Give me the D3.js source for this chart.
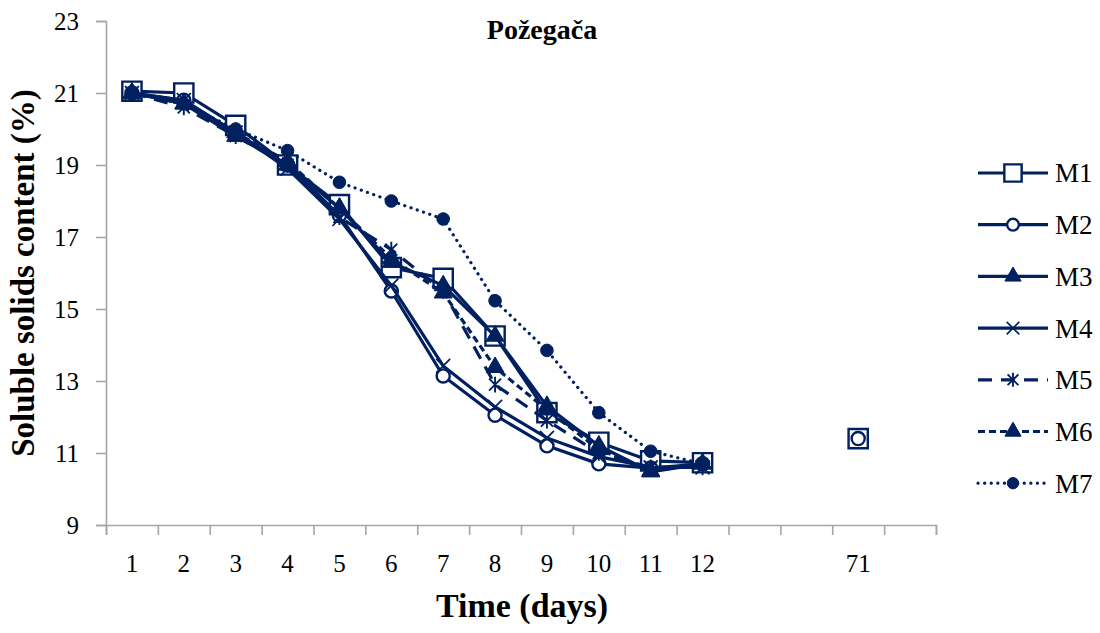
<!DOCTYPE html>
<html>
<head>
<meta charset="utf-8">
<script src="https://cdn.jsdelivr.net/npm/d3@7"></script>
<style>
  body { margin: 0; background: #fff; }
  svg { display: block; }
  text { font-family: "Liberation Serif", "Times New Roman", serif; fill: #000; }
</style>
</head>
<body>
<div id="wrapper"></div>
<script>
// x categories (empty slots keep the gap before day 71)
const xLabels = ['1', '2', '3', '4', '5', '6', '7', '8', '9', '10', '11', '12', '', '', '71', '']
const yTicks = [9, 11, 13, 15, 17, 19, 21, 23]
const seriesNames = ['M1', 'M2', 'M3', 'M4', 'M5', 'M6', 'M7']

const m1 = [21.05, 21.0, 20.1, 19.0, 17.9, 16.15, 15.85, 14.25, 12.12, 11.3, 10.78, 10.73, null, null, 11.4, null]
const m2 = [21.0, 20.8, 19.9, 19.0, 17.6, 15.5, 13.14, 12.05, 11.2, 10.7, 10.58, 10.7, null, null, 11.4, null]
const m3 = [21.0, 20.7, 19.8, 19.0, 17.8, 16.3, 15.65, 14.25, 12.3, 11.2, 10.48, 10.7, null, null, null, null]
const m4 = [21.0, 20.8, 19.9, 18.9, 17.5, 15.65, 13.42, 12.28, 11.42, 10.9, 10.6, 10.6, null, null, null, null]
const m5 = [21.0, 20.6, 19.8, 19.0, 17.55, 16.65, 15.5, 12.9, 11.9, 11.0, 10.6, 10.6, null, null, null, null]
const m6 = [21.0, 20.7, 19.9, 19.1, 17.8, 16.4, 15.45, 13.38, 12.2, 11.1, 10.5, 10.7, null, null, null, null]
const m7 = [21.0, 20.7, 20.0, 19.4, 18.52, 18.0, 17.5, 15.23, 13.85, 12.12, 11.05, 10.7, null, null, null, null]

function drawChart() {
    const color = '#002060'
    const axisColor = '#a6a6a6'
    const width = 1100, height = 633

    const svg = d3.select('#wrapper').append('svg')
        .attr('width', width)
        .attr('height', height)

    // scales
    const x = d3.scaleBand().domain(d3.range(xLabels.length)).range([106, 936]).padding(0)
    const xEdge = d3.scaleLinear().domain([0, xLabels.length]).range([106, 936])
    const y = d3.scaleLinear().domain([9, 23]).range([525, 21])
    const cx = i => x(i) + x.bandwidth() / 2

    // axes
    const yAxis = svg.append('g')
        .attr('transform', 'translate(106,0)')
        .call(d3.axisLeft(y).tickValues(yTicks).tickSize(10).tickPadding(17).tickFormat(d3.format('d')))
    yAxis.selectAll('text').style('font-size', '25px').attr('dy', '0.34em')

    svg.append('g')
        .attr('transform', 'translate(0,525)')
        .call(d3.axisBottom(xEdge).tickValues(d3.range(xLabels.length + 1)).tickSize(10).tickFormat(''))

    const xAxis = svg.append('g')
        .attr('transform', 'translate(0,525)')
        .call(d3.axisBottom(x).tickSize(0).tickPadding(29).tickFormat(i => xLabels[i]))
    xAxis.select('.domain').remove()
    xAxis.selectAll('text').style('font-size', '25px').attr('dy', '0.71em')

    svg.selectAll('.domain, .tick line').attr('stroke', axisColor).attr('stroke-width', 1.6)

    // series styling
    const allData = [m1, m2, m3, m4, m5, m6, m7]
    const dashes = [null, null, null, null, '14,9', '7,4', '0.1,6.5']

    const crossPath = s => `M${-s},${-s}L${s},${s}M${-s},${s}L${s},${-s}`
    const starPath = s => `M${-s},${-s}L${s},${s}M${-s},${s}L${s},${-s}M0,${-s * 1.3}L0,${s * 1.3}`

    function drawMarker(g, k, px, py, scale) {
        scale = scale || 1
        const m = g.append('g').attr('transform', `translate(${px},${py})`)
        if (k == 0) {
            m.append('path').attr('d', d3.symbol(d3.symbolSquare, 370 * scale * scale)())
                .attr('fill', '#fff').attr('stroke', color).attr('stroke-width', 2.4)
        } else if (k == 1) {
            m.append('path').attr('d', d3.symbol(d3.symbolCircle, 135 * scale * scale)())
                .attr('fill', '#fff').attr('stroke', color).attr('stroke-width', 2.4)
        } else if (k == 2 || k == 5) {
            m.append('path').attr('d', d3.symbol(d3.symbolTriangle, 140 * scale * scale)())
                .attr('fill', color).attr('stroke', color).attr('stroke-width', 1)
        } else if (k == 3) {
            m.append('path').attr('d', crossPath(7 * scale))
                .attr('fill', 'none').attr('stroke', color).attr('stroke-width', 1.7)
        } else if (k == 4) {
            m.append('path').attr('d', starPath(6 * scale))
                .attr('fill', 'none').attr('stroke', color).attr('stroke-width', 1.9)
        } else if (k == 6) {
            m.append('path').attr('d', d3.symbol(d3.symbolCircle, 125 * scale * scale)())
                .attr('fill', color).attr('stroke', color).attr('stroke-width', 1)
        }
    }

    const line = d3.line()
        .defined(d => d.v != null)
        .x(d => cx(d.i))
        .y(d => y(d.v))

    const plot = svg.append('g').attr('class', 'plot')

    allData.forEach((values, k) => {
        const pts = values.map((v, i) => ({ i, v }))
        plot.append('path')
            .datum(pts)
            .attr('fill', 'none')
            .attr('stroke', color)
            .attr('stroke-width', 3.2)
            .attr('stroke-linecap', k == 6 ? 'round' : 'butt')
            .attr('stroke-dasharray', dashes[k])
            .attr('d', line)
        const mg = plot.append('g')
        pts.filter(d => d.v != null).forEach(d => drawMarker(mg, k, cx(d.i), y(d.v)))
    })

    // legend
    const legend = svg.append('g').attr('class', 'legend')
    seriesNames.forEach((name, k) => {
        const ly = 173 + k * 51.7
        legend.append('line')
            .attr('x1', 978).attr('x2', 1048)
            .attr('y1', ly).attr('y2', ly)
            .attr('stroke', color)
            .attr('stroke-width', 3.2)
            .attr('stroke-linecap', k == 6 ? 'round' : 'butt')
            .attr('stroke-dasharray', dashes[k])
        drawMarker(legend, k, 1013, ly, 0.9)
        legend.append('text')
            .attr('x', 1055).attr('y', ly)
            .attr('dy', '0.35em')
            .style('font-size', '27px')
            .text(name)
    })

    // titles
    svg.append('text')
        .attr('x', 542).attr('y', 39)
        .attr('text-anchor', 'middle')
        .style('font-size', '28px').style('font-weight', 'bold')
        .text('Požegača')

    svg.append('text')
        .attr('x', 522).attr('y', 617)
        .attr('text-anchor', 'middle')
        .style('font-size', '34px').style('font-weight', 'bold')
        .text('Time (days)')

    svg.append('text')
        .attr('transform', 'translate(34,273) rotate(-90)')
        .attr('text-anchor', 'middle')
        .style('font-size', '33px').style('font-weight', 'bold')
        .text('Soluble solids content (%)')
}

drawChart()
</script>
</body>
</html>
